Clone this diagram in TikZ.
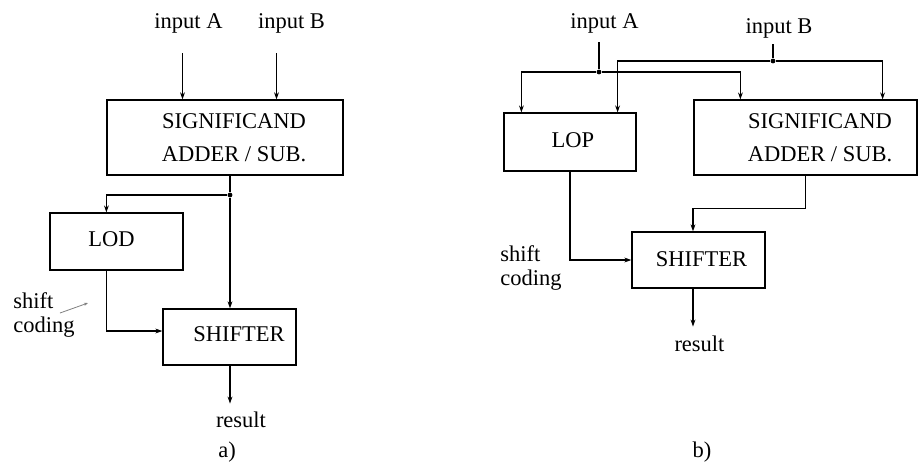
\documentclass[tikz,border=0pt]{standalone}
\usepackage{fontspec}
\setmainfont{Liberation Serif}
\usetikzlibrary{arrows.meta}
\tikzset{
  blk/.style={draw, line width=0.6pt, inner sep=0pt},
  txt/.style={font=\fontsize{11.25}{12}\selectfont, inner sep=0pt},
  inside/.style={txt, font=\fontsize{11.25}{16.5}\selectfont, align=center},
  wire/.style={line width=0.6pt},
  arr/.style={wire, -{Stealth[length=3.5pt,width=2.4pt]}},
  dot/.style={circle, fill, inner sep=0pt, minimum size=2.4pt},
}
\begin{document}
\begin{tikzpicture}[x=0.5pt, y=-0.5pt]
  \useasboundingbox (0,0) rectangle (918,463);
  \node[blk, minimum width=118pt, minimum height=37.5pt,
    label={[inside, xshift=4.5pt]center:{SIGNIFICAND\\ADDER / SUB.}}] (addA) at (225,137.5) {};
  \node[blk, minimum width=66.5pt, minimum height=28.5pt,
    label={[inside, xshift=-2.5pt, yshift=1pt]center:LOD}] (lodA) at (116.5,241.5) {};
  \node[blk, minimum width=66.5pt, minimum height=28pt,
    label={[inside, xshift=4.75pt, yshift=1.25pt]center:SHIFTER}] (shA) at (229.5,337) {};
  \node[txt, anchor=base] (inAa) at (188.5,28) {input A};
  \node[txt, anchor=base] (inBa) at (291.5,28) {input B};
  \node[txt, anchor=base] (resA) at (241,427) {result};
  \node[txt, anchor=base] (capA) at (227,457) {a)};
  \node[txt, anchor=base west, align=left] (scA) at (13,332) {shift\\coding};
  \coordinate (jA) at (230,195);
  \coordinate (pA) at (60,313);
  \coordinate (qA) at (88,303);
  \node[dot] (dA) at (jA) {};
  \begin{scope}
    \draw[arr] ([xshift=-3pt, yshift=-10pt]inAa.south) -- ([xshift=-3pt]inAa.south |- addA.north);
    \draw[arr] ([xshift=-7.5pt, yshift=-10pt]inBa.south) -- ([xshift=-7.5pt]inBa.south |- addA.north);
    \draw[wire] (jA |- addA.south) -- (dA);
    \draw[arr] (dA) -- (jA |- shA.north);
    \draw[arr] (dA) -| ([xshift=28.5pt]lodA.north west);
    \draw[arr] ([xshift=28.5pt]lodA.south west) |- ([yshift=3pt]shA.west);
    \draw[arr] (jA |- shA.south) -- ++(0,38);
    \draw[gray, line width=0.4pt, -{Stealth[length=2pt,width=1.5pt]}] (pA) -- (qA);
  \end{scope}

  \node[blk, minimum width=66pt, minimum height=29pt,
    label={[inside, xshift=1.5pt, yshift=0.75pt]center:LOP}] (lopB) at (570,142) {};
  \node[blk, minimum width=111.5pt, minimum height=37.5pt,
    label={[inside, xshift=7.25pt]center:{SIGNIFICAND\\ADDER / SUB.}}] (addB) at (805.5,137.5) {};
  \node[blk, minimum width=66.5pt, minimum height=28pt,
    label={[inside, xshift=1.5pt, yshift=0.25pt]center:SHIFTER}] (shB) at (698.5,260) {};
  \node[txt, anchor=base] (inAb) at (604.5,28) {input A};
  \node[txt, anchor=base] (inBb) at (779,33) {input B};
  \node[txt, anchor=base] (resB) at (699.5,351) {result};
  \node[txt, anchor=base] (capB) at (702,457) {b)};
  \node[txt, anchor=base west, align=left] (scB) at (500,285) {shift\\coding};
  \coordinate (jAb) at (599,72);
  \coordinate (jBb) at (773,61);
  \node[dot] (dAb) at (jAb) {};
  \node[dot] (dBb) at (jBb) {};
  \begin{scope}
    \draw[wire] ([yshift=-4.5pt]inAb.south -| dAb) -- (dAb);
    \draw[wire] ([yshift=-3pt]inBb.south -| dBb) -- (dBb);
    \draw[arr] (dAb) -| ([xshift=9pt]lopB.north west);
    \draw[arr] (dAb) -| ([xshift=23.5pt]addB.north west);
    \draw[arr] (dBb) -| ([xshift=-9.5pt]lopB.north east);
    \draw[arr] (dBb) -| ([xshift=-17.5pt]addB.north east);
    \draw[arr] (addB.south) -- ++(0,33) -| ([xshift=-2.75pt]shB.north);
    \draw[arr] (lopB.south) |- (shB.west);
    \draw[arr] ([xshift=-2.75pt]shB.south) -- ++(0,38);
  \end{scope}
\end{tikzpicture}
\end{document}
